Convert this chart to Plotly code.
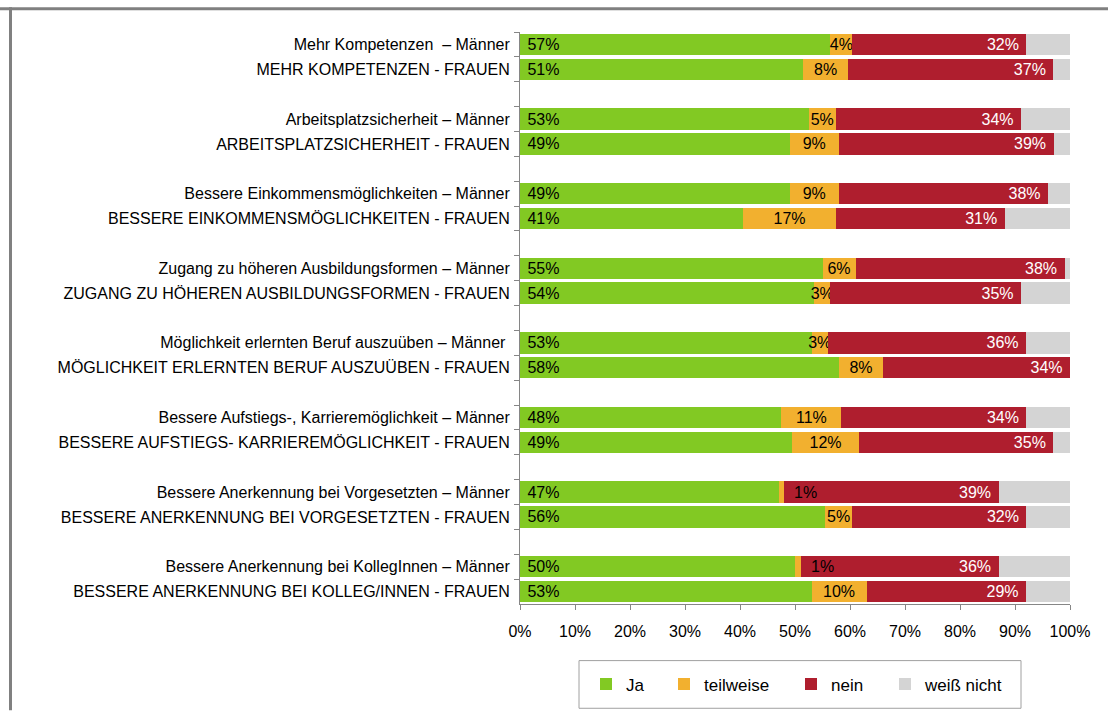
import plotly.graph_objects as go

# Survey items, top to bottom (Männer / Frauen per topic)
items = [
    "Mehr Kompetenzen  – Männer",
    "MEHR KOMPETENZEN - FRAUEN",
    "Arbeitsplatzsicherheit – Männer",
    "ARBEITSPLATZSICHERHEIT - FRAUEN",
    "Bessere Einkommensmöglichkeiten – Männer",
    "BESSERE EINKOMMENSMÖGLICHKEITEN - FRAUEN",
    "Zugang zu höheren Ausbildungsformen – Männer",
    "ZUGANG ZU HÖHEREN AUSBILDUNGSFORMEN - FRAUEN",
    "Möglichkeit erlernten Beruf auszuüben – Männer\u00a0",
    "MÖGLICHKEIT ERLERNTEN BERUF AUSZUÜBEN - FRAUEN",
    "Bessere Aufstiegs-, Karrieremöglichkeit – Männer",
    "BESSERE AUFSTIEGS- KARRIEREMÖGLICHKEIT - FRAUEN",
    "Bessere Anerkennung bei Vorgesetzten – Männer",
    "BESSERE ANERKENNUNG BEI VORGESETZTEN - FRAUEN",
    "Bessere Anerkennung bei KollegInnen – Männer",
    "BESSERE ANERKENNUNG BEI KOLLEG/INNEN - FRAUEN",
]

ja = [57, 51, 53, 49, 49, 41, 55, 54, 53, 58, 48, 49, 47, 56, 50, 53]
teilweise = [4, 8, 5, 9, 9, 17, 6, 3, 3, 8, 11, 12, 1, 5, 1, 10]
nein = [32, 37, 34, 39, 38, 31, 38, 35, 36, 34, 34, 35, 39, 32, 36, 29]
weiss_nicht = [8, 3, 9, 3, 4, 12, 1, 9, 8, 0, 8, 3, 13, 8, 13, 8]

series_names = ["Ja", "teilweise", "nein", "weiß nicht"]
colors = ["#82C923", "#F2B02F", "#AF1E2E", "#D4D4D4"]

FONT = "Liberation Sans, Arial, sans-serif"
NBSP = "\u00a0"

# Plot-area geometry in pixels (used to place the frame and legend)
W, H = 1108, 715
PL, PR, PT, PB = 520, 1070, 32, 608


def px_x(x):
    return (x - PL) / (PR - PL)


def px_y(y):
    return (PB - y) / (PB - PT)


# Category order with an empty spacer row between topics
categories = []
for i in range(0, len(items), 2):
    if i > 0:
        categories.append(" " * (i // 2))
    categories.extend([items[i], items[i + 1]])

totals = [a + b + c + d for a, b, c, d in zip(ja, teilweise, nein, weiss_nicht)]

legend_ids = ["legend", "legend2", "legend3", "legend4"]

fig = go.Figure()

fig.add_trace(go.Bar(
    y=items, x=ja, name=series_names[0], orientation="h", legend=legend_ids[0],
    marker=dict(color=colors[0], line=dict(width=0)),
    text=[f"{NBSP}{v}%" for v in ja], textposition="inside",
    insidetextanchor="start", textangle=0, constraintext="none",
    textfont=dict(color="black", size=16, family=FONT),
))

# Very thin segments get their label placed beside the bar instead
thin = [(t / tot * 100) < 2 for t, tot in zip(teilweise, totals)]
fig.add_trace(go.Bar(
    y=items, x=teilweise, name=series_names[1], orientation="h", legend=legend_ids[1],
    marker=dict(color=colors[1], line=dict(width=0)),
    text=["" if s else f"{v}%" for v, s in zip(teilweise, thin)],
    textposition="inside", insidetextanchor="middle", textangle=0,
    constraintext="none",
    textfont=dict(color="black", size=16, family=FONT),
))

fig.add_trace(go.Bar(
    y=items, x=nein, name=series_names[2], orientation="h", legend=legend_ids[2],
    marker=dict(color=colors[2], line=dict(width=0)),
    text=[f"{v}%{NBSP}" for v in nein], textposition="inside",
    insidetextanchor="end", textangle=0, constraintext="none",
    textfont=dict(color="white", size=16, family=FONT),
))

fig.add_trace(go.Bar(
    y=items, x=weiss_nicht, name=series_names[3], orientation="h", legend=legend_ids[3],
    marker=dict(color=colors[3], line=dict(width=0)),
    textposition="none",
))

annotations = []
for item, j, t, tot, s in zip(items, ja, teilweise, totals, thin):
    if s:
        annotations.append(dict(
            x=(j + t) / tot * 100, y=item, xref="x", yref="y",
            text=f"{t}%", showarrow=False, xanchor="left", xshift=8,
            font=dict(color="black", size=16, family=FONT),
        ))

# Outer frame (top and left edges) and the legend box
shapes = [
    dict(type="line", xref="paper", yref="paper", x0=px_x(0), x1=px_x(W),
         y0=px_y(8.5), y1=px_y(8.5), line=dict(color="#808080", width=3)),
    dict(type="line", xref="paper", yref="paper", x0=px_x(10.5), x1=px_x(10.5),
         y0=px_y(7), y1=px_y(H), line=dict(color="#808080", width=3)),
    dict(type="rect", xref="paper", yref="paper",
         x0=px_x(579), x1=px_x(1021), y0=px_y(713), y1=px_y(665),
         line=dict(color="#A0A0A0", width=1)),
]

# One single-entry legend per series so each entry sits at its own spot
legend_square_left = [604, 682, 809, 903]
legends = {}
for lid, sx in zip(legend_ids, legend_square_left):
    legends[lid] = dict(
        x=px_x(sx - 18), xanchor="left", y=px_y(689), yanchor="middle",
        orientation="h", font=dict(size=17, family=FONT, color="black"),
        bgcolor="rgba(0,0,0,0)", borderwidth=0, itemwidth=30,
    )

fig.update_layout(
    width=W, height=H,
    margin=dict(l=PL, r=W - PR, t=PT, b=H - PB),
    barmode="stack", barnorm="percent", bargap=0.14,
    paper_bgcolor="white", plot_bgcolor="white",
    font=dict(family=FONT, size=16, color="black"),
    showlegend=True,
    xaxis=dict(
        range=[0, 100], dtick=10, ticksuffix="%", showgrid=False,
        zeroline=False, showline=True, linecolor="#868686", linewidth=1,
        ticks="outside", ticklen=5, tickcolor="#868686",
        ticklabelstandoff=8, tickfont=dict(size=16, family=FONT),
        fixedrange=True,
    ),
    yaxis=dict(
        type="category", categoryorder="array", categoryarray=categories,
        range=[len(categories) - 0.5, -0.5],
        showgrid=False, zeroline=False, showline=True, linecolor="#868686",
        linewidth=1, ticks="outside", ticklen=5, tickcolor="#868686",
        tickson="boundaries", ticklabelstandoff=6,
        tickfont=dict(size=16, family=FONT),
        fixedrange=True,
    ),
    shapes=shapes,
    annotations=annotations,
    **legends,
)

fig.write_html("out.html")
